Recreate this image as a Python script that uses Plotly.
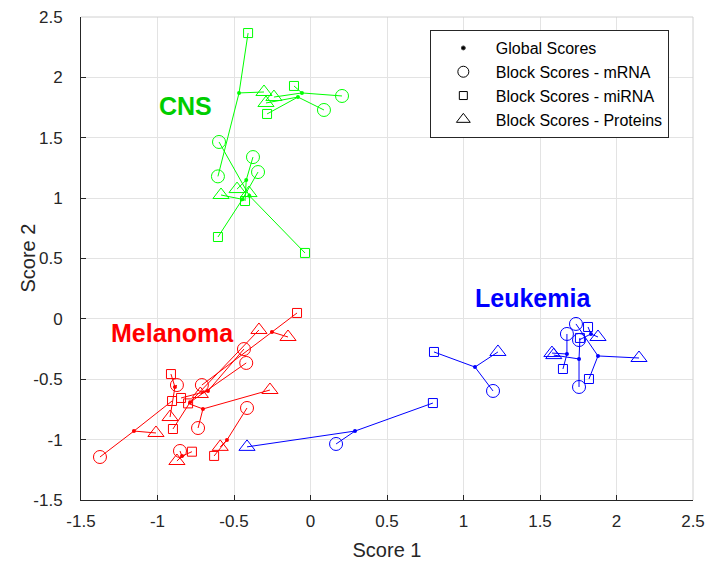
import plotly.graph_objects as go

# ---- Axis ticks ----
tick_vals = [-1.5, -1.0, -0.5, 0.0, 0.5, 1.0, 1.5, 2.0, 2.5]
tick_text = ["-1.5", "-1", "-0.5", "0", "0.5", "1", "1.5", "2", "2.5"]

# ---- CNS samples (global score + block scores) ----
cns_global_x = [-0.467, -0.056, -0.082, -0.420, -0.400, -0.445]
cns_global_y = [1.871, 1.871, 1.837, 1.150, 1.020, 0.990]
cns_mrna_x = [-0.605, 0.206, 0.088, -0.376, -0.598, -0.343]
cns_mrna_y = [1.180, 1.846, 1.730, 1.340, 1.465, 1.216]
cns_mirna_x = [-0.408, -0.108, -0.284, -0.428, -0.036, -0.605]
cns_mirna_y = [2.367, 1.929, 1.697, 0.976, 0.546, 0.678]
cns_prot_x = [-0.304, -0.239, -0.291, -0.480, -0.402, -0.585]
cns_prot_y = [1.879, 1.837, 1.788, 1.075, 1.042, 1.026]

# ---- Melanoma samples ----
mel_global_x = [-1.154, -0.252, -0.670, -0.787, -0.703, -0.546, -0.840, -0.886]
mel_global_y = [-0.929, -0.109, -0.597, -0.690, -0.746, -1.003, -1.136, -0.564]
mel_mrna_x = [-1.376, -0.710, -0.435, -0.420, -0.735, -0.415, -0.853, -0.873]
mel_mrna_y = [-1.144, -0.548, -0.250, -0.365, -0.904, -0.738, -1.094, -0.548]
mel_mirna_x = [-0.905, -0.088, -0.846, -0.899, -0.800, -0.630, -0.775, -0.912]
mel_mirna_y = [-0.680, 0.049, -0.655, -0.912, -0.700, -1.135, -1.100, -0.457]
mel_prot_x = [-1.010, -0.147, -0.720, -0.337, -0.265, -0.590, -0.873, -0.918]
mel_prot_y = [-0.945, -0.150, -0.622, -0.092, -0.589, -1.060, -1.177, -0.813]

# ---- Leukemia samples ----
leu_global_x = [0.291, 1.075, 1.676, 1.755, 1.879, 1.833]
leu_global_y = [-0.929, -0.399, -0.291, -0.332, -0.307, -0.125]
leu_mrna_x = [0.167, 1.193, 1.676, 1.755, 1.735, 1.755]
leu_mrna_y = [-1.036, -0.597, -0.125, -0.564, -0.042, -0.175]
leu_mirna_x = [0.800, 0.807, 1.650, 1.761, 1.820, 1.814]
leu_mirna_y = [-0.697, -0.274, -0.415, -0.158, -0.498, -0.067]
leu_prot_x = [-0.415, 1.225, 1.578, 1.590, 2.147, 1.879]
leu_prot_y = [-1.060, -0.274, -0.283, -0.300, -0.324, -0.150]

groups = [
    ("CNS", "rgb(0,255,0)", "rgb(0,205,0)", -0.817, 1.765,
     cns_global_x, cns_global_y, cns_mrna_x, cns_mrna_y,
     cns_mirna_x, cns_mirna_y, cns_prot_x, cns_prot_y),
    ("Melanoma", "rgb(255,0,0)", "rgb(255,0,0)", -0.899, -0.115,
     mel_global_x, mel_global_y, mel_mrna_x, mel_mrna_y,
     mel_mirna_x, mel_mirna_y, mel_prot_x, mel_prot_y),
    ("Leukemia", "rgb(0,0,255)", "rgb(0,0,255)", 1.455, 0.175,
     leu_global_x, leu_global_y, leu_mrna_x, leu_mrna_y,
     leu_mirna_x, leu_mirna_y, leu_prot_x, leu_prot_y),
]

FONT = "Liberation Sans, Arial"

fig = go.Figure()

for (name, col, tcol, lx, ly, gx, gy, mx, my, qx, qy, px, py) in groups:
    # spokes from each global score to its three block scores
    sx, sy = [], []
    for i in range(len(gx)):
        for bx, by in ((mx, my), (qx, qy), (px, py)):
            sx += [gx[i], bx[i], None]
            sy += [gy[i], by[i], None]
    fig.add_trace(go.Scatter(x=sx, y=sy, mode="lines",
                             line=dict(color=col, width=1),
                             showlegend=False, hoverinfo="skip"))
    fig.add_trace(go.Scatter(x=mx, y=my, mode="markers", showlegend=False,
                             marker=dict(symbol="circle-open", size=13,
                                         color=col, line=dict(width=1))))
    fig.add_trace(go.Scatter(x=qx, y=qy, mode="markers", showlegend=False,
                             marker=dict(symbol="square-open", size=9,
                                         color=col, line=dict(width=1))))
    fig.add_trace(go.Scatter(x=px, y=py, mode="markers", showlegend=False,
                             marker=dict(symbol="triangle-up-open", size=14,
                                         color=col, line=dict(width=1))))
    fig.add_trace(go.Scatter(x=gx, y=gy, mode="markers", showlegend=False,
                             marker=dict(symbol="circle", size=4, color=col)))
    fig.add_annotation(x=lx, y=ly, text="<b>%s</b>" % name, showarrow=False,
                       font=dict(family=FONT, size=25, color=tcol))

# legend entries (black symbols)
legend_items = [
    ("Global Scores", "circle", 4),
    ("Block Scores - mRNA", "circle-open", 11),
    ("Block Scores - miRNA", "square-open", 8),
    ("Block Scores - Proteins", "triangle-up-open", 12),
]
for label, sym, sz in legend_items:
    fig.add_trace(go.Scatter(x=[None], y=[None], mode="markers", name=label,
                             marker=dict(symbol=sym, size=sz, color="black",
                                         line=dict(width=1))))

axis_common = dict(
    tickvals=tick_vals, ticktext=tick_text, automargin=False,
    showgrid=True, gridcolor="#e3e3e3", gridwidth=1,
    zeroline=False, showline=True, linecolor="#262626", linewidth=1,
    ticks="inside", ticklen=5, tickcolor="#262626",
    tickfont=dict(family=FONT, size=17, color="#262626"),
)

fig.update_layout(
    width=712, height=563,
    margin=dict(l=81, r=19, t=17, b=63),
    plot_bgcolor="white", paper_bgcolor="white",
    xaxis=dict(range=[-1.5, 2.5], ticklabelstandoff=6,
               title=dict(text="Score 1", standoff=12,
                          font=dict(family=FONT, size=20, color="#262626")),
               **axis_common),
    yaxis=dict(range=[-1.5, 2.5], ticklabelstandoff=14, **axis_common),
    legend=dict(x=0.57, y=0.973, xanchor="left", yanchor="top",
                bgcolor="white", bordercolor="#262626", borderwidth=1,
                font=dict(family=FONT, size=16, color="black"),
                itemwidth=55),
    showlegend=True,
)

# y-axis title placed as a rotated label
fig.add_annotation(xref="paper", yref="paper", x=(27 - 81) / 612, y=0.5,
                   xanchor="center", yanchor="middle",
                   text="Score 2", textangle=-90, showarrow=False,
                   font=dict(family=FONT, size=20, color="#262626"))

# light frame on the top and right edges of the axes box
fig.add_shape(type="line", xref="paper", yref="paper", x0=0, x1=1, y0=1, y1=1,
              line=dict(color="#d0d0d0", width=1))
fig.add_shape(type="line", xref="paper", yref="paper", x0=1, x1=1, y0=0, y1=1,
              line=dict(color="#d0d0d0", width=1))

fig.write_html("out.html")
